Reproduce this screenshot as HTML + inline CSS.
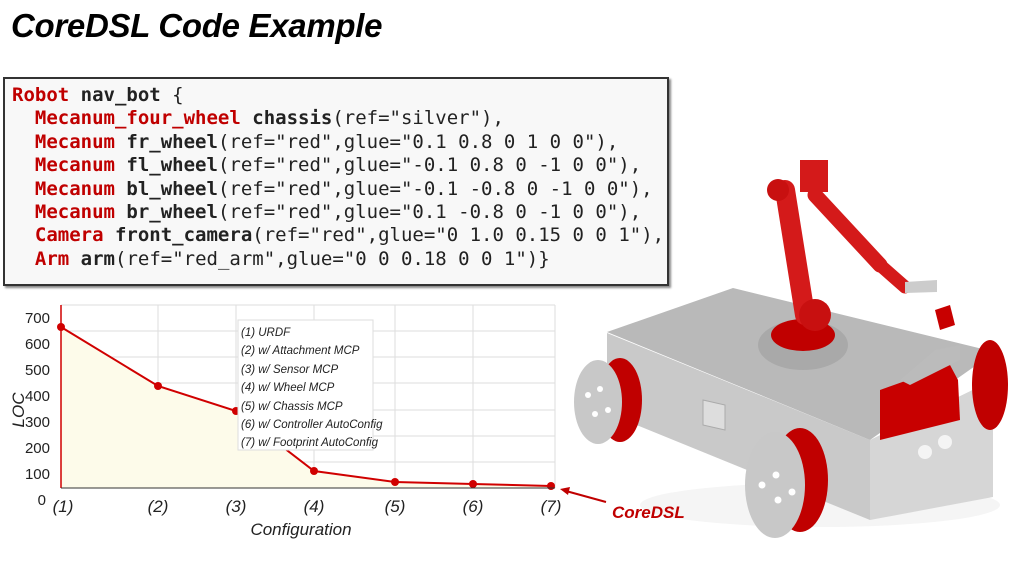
<!DOCTYPE html>
<html><head><meta charset="utf-8"><style>
body{margin:0;width:1023px;height:573px;background:#fff;position:relative;overflow:hidden;font-family:"Liberation Sans",sans-serif}
.t{position:absolute;left:11px;top:7px;font-size:33px;font-weight:bold;font-style:italic;letter-spacing:-0.3px}
.code{position:absolute;left:3px;top:77px;width:662px;height:205px;border:2px solid #333;background:#f8f8f8;box-shadow:2px 2px 2px #888}
.code pre{margin:0;position:absolute;left:7px;top:5px;font-family:"DejaVu Sans Mono","Liberation Mono",monospace;font-size:19px;line-height:23.4px;color:#222}
.k{color:#c00000;font-weight:bold}.b{font-weight:bold}
</style></head><body>
<div class="t">CoreDSL Code Example</div>
<div class="code"><pre><span class="k">Robot</span> <span class="b">nav_bot</span> {
  <span class="k">Mecanum_four_wheel</span> <span class="b">chassis</span>(ref="silver"),
  <span class="k">Mecanum</span> <span class="b">fr_wheel</span>(ref="red",glue="0.1 0.8 0 1 0 0"),
  <span class="k">Mecanum</span> <span class="b">fl_wheel</span>(ref="red",glue="-0.1 0.8 0 -1 0 0"),
  <span class="k">Mecanum</span> <span class="b">bl_wheel</span>(ref="red",glue="-0.1 -0.8 0 -1 0 0"),
  <span class="k">Mecanum</span> <span class="b">br_wheel</span>(ref="red",glue="0.1 -0.8 0 -1 0 0"),
  <span class="k">Camera</span> <span class="b">front_camera</span>(ref="red",glue="0 1.0 0.15 0 0 1"),
  <span class="k">Arm</span> <span class="b">arm</span>(ref="red_arm",glue="0 0 0.18 0 0 1")}</pre></div>

<svg width="1023" height="573" style="position:absolute;left:0;top:0" font-family="Liberation Sans, sans-serif">
<!-- robot shadow -->
<ellipse cx="820" cy="505" rx="180" ry="22" fill="#f5f5f5"/>
<!-- chart -->
<g stroke="#ddd" stroke-width="1">
<line x1="61" y1="305" x2="555" y2="305"/><line x1="61" y1="331" x2="555" y2="331"/><line x1="61" y1="357" x2="555" y2="357"/><line x1="61" y1="383" x2="555" y2="383"/><line x1="61" y1="410" x2="555" y2="410"/><line x1="61" y1="436" x2="555" y2="436"/><line x1="61" y1="462" x2="555" y2="462"/>
<line x1="158" y1="305" x2="158" y2="488"/><line x1="236" y1="305" x2="236" y2="488"/><line x1="314" y1="305" x2="314" y2="488"/><line x1="395" y1="305" x2="395" y2="488"/><line x1="473" y1="305" x2="473" y2="488"/><line x1="555" y1="305" x2="555" y2="488"/>
</g>
<polygon points="61,327 158,386 236,411 314,471 395,482 473,484 551,486 551,488 61,488" fill="#fdfbea"/>
<polyline points="61,327 158,386 236,411 314,471 395,482 473,484 551,486" fill="none" stroke="#d00000" stroke-width="2"/>
<g fill="#d00000"><circle cx="61" cy="327" r="4"/><circle cx="158" cy="386" r="4"/><circle cx="236" cy="411" r="4"/><circle cx="314" cy="471" r="4"/><circle cx="395" cy="482" r="4"/><circle cx="473" cy="484" r="4"/><circle cx="551" cy="486" r="4"/></g>
<line x1="61" y1="305" x2="61" y2="488" stroke="#d00000" stroke-width="1.5"/>
<line x1="61" y1="488" x2="555" y2="488" stroke="#333" stroke-width="1"/>
<rect x="238" y="320" width="135" height="130" fill="#fff" stroke="#ddd"/>
<g font-size="11.5" font-style="italic" fill="#222">
<text x="241" y="336">(1) URDF</text><text x="241" y="354">(2) w/ Attachment MCP</text><text x="241" y="373">(3) w/ Sensor MCP</text><text x="241" y="391">(4) w/ Wheel MCP</text><text x="241" y="410">(5) w/ Chassis MCP</text><text x="241" y="428">(6) w/ Controller AutoConfig</text><text x="241" y="446">(7) w/ Footprint AutoConfig</text>
</g>
<g font-size="15" fill="#222" text-anchor="end">
<text x="50" y="323">700</text><text x="50" y="349">600</text><text x="50" y="375">500</text><text x="50" y="401">400</text><text x="50" y="427">300</text><text x="50" y="453">200</text><text x="50" y="479">100</text><text x="46" y="505">0</text>
</g>
<g font-size="17" font-style="italic" fill="#222" text-anchor="middle">
<text x="63" y="512">(1)</text><text x="158" y="512">(2)</text><text x="236" y="512">(3)</text><text x="314" y="512">(4)</text><text x="395" y="512">(5)</text><text x="473" y="512">(6)</text><text x="551" y="512">(7)</text>
<text x="301" y="535">Configuration</text>
</g>
<text transform="translate(24,410) rotate(-90)" font-size="17" font-style="italic" fill="#222" text-anchor="middle">LOC</text>

<!-- robot -->
<polygon points="607,333 870,440 870,520 607,413" fill="#c9c9c9"/>
<polygon points="870,440 993,380 993,497 870,520" fill="#d6d6d6"/>
<polygon points="607,332 733,288 995,352 870,440" fill="#b9b9b9"/>
<ellipse cx="803" cy="345" rx="45" ry="25" fill="#a9a9a9"/>
<ellipse cx="803" cy="335" rx="32" ry="16" fill="#c00000"/>
<polygon points="703,400 725,405 725,430 703,425" fill="#ddd" stroke="#aaa"/>
<circle cx="925" cy="452" r="7" fill="#f4f4f4"/><circle cx="945" cy="442" r="7" fill="#f4f4f4"/>
<ellipse cx="990" cy="385" rx="18" ry="45" fill="#c00000"/>
<ellipse cx="620" cy="400" rx="22" ry="42" fill="#c00000"/>
<ellipse cx="598" cy="402" rx="24" ry="42" fill="#c8c8c8"/>
<g fill="#fff"><circle cx="588" cy="395" r="3"/><circle cx="600" cy="389" r="3"/><circle cx="595" cy="414" r="3"/><circle cx="608" cy="410" r="3"/></g>
<ellipse cx="800" cy="480" rx="28" ry="52" fill="#c00000"/>
<ellipse cx="775" cy="485" rx="30" ry="53" fill="#c8c8c8"/>
<g fill="#fff"><circle cx="762" cy="485" r="3.5"/><circle cx="776" cy="475" r="3.5"/><circle cx="778" cy="500" r="3.5"/><circle cx="792" cy="492" r="3.5"/></g>
<polygon points="880,390 950,365 958,380 960,420 880,440" fill="#c80000"/>
<polygon points="900,380 935,350 960,345 960,360 910,385" fill="#bbb"/>
<polygon points="935,310 950,305 955,325 940,330" fill="#c80000"/>
<g stroke="#d41a1a" stroke-linecap="round" fill="none">
<line x1="805" y1="315" x2="785" y2="190" stroke-width="20"/>
<line x1="815" y1="195" x2="880" y2="265" stroke-width="15"/>
<line x1="880" y1="265" x2="905" y2="287" stroke-width="13"/>
</g>
<rect x="800" y="160" width="28" height="32" fill="#d41a1a"/>
<circle cx="778" cy="190" r="11" fill="#c81010"/>
<circle cx="815" cy="315" r="16" fill="#c81010"/>
<polygon points="905,282 937,280 937,292 905,293" fill="#ccc"/>

<line x1="606" y1="502" x2="566" y2="491" stroke="#c00000" stroke-width="2"/>
<polygon points="560,489 570,487 568,495" fill="#c00000"/>
<text x="612" y="518" font-size="17" font-weight="bold" font-style="italic" fill="#c00000">CoreDSL</text>
</svg>
</body></html>
